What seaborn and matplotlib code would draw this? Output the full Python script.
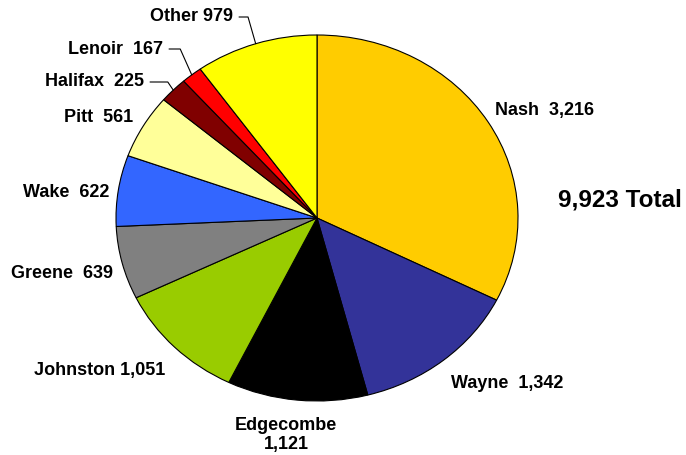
import numpy as np
import matplotlib.pyplot as plt
import seaborn as sns

counties = ["Nash", "Wayne", "Edgecombe", "Johnston", "Greene",
            "Wake", "Pitt", "Halifax", "Lenoir", "Other"]
cases = [3216, 1342, 1121, 1051, 639, 622, 561, 225, 167, 979]
labels = ["Nash  3,216", "Wayne  1,342", "Edgecombe\n1,121", "Johnston 1,051",
          "Greene  639", "Wake  622", "Pitt  561", "Halifax  225",
          "Lenoir  167", "Other 979"]
total_text = "9,923 Total"

colors = ["#FFCC00", "#333399", "#000000", "#99CC00", "#808080",
          "#3366FF", "#FFFF99", "#800000", "#FF0000", "#FFFF00"]

sns.set_style("white")
plt.rcParams["font.family"] = ["Liberation Sans", "DejaVu Sans"]
plt.rcParams["text.color"] = "black"

# pie centre / radii in pixels (the original is a bit wider than tall)
cx, cy, rx, ry = 317, 218, 201, 183
W, H = 686, 455


def px(x, y):
    return ((x - cx) / rx, (cy - y) / ry)


fig = plt.figure(figsize=(W / 100, H / 100), dpi=100)
ax = fig.add_axes([0, 0, 1, 1])
wedges, _ = ax.pie(cases, colors=colors, startangle=90, counterclock=False,
                   radius=1, wedgeprops=dict(edgecolor="black", linewidth=0.8))
ax.set_aspect("auto")
ax.set_xlim(-cx / rx, (W - cx) / rx)
ax.set_ylim((cy - H) / ry, cy / ry)
ax.axis("off")

# label placement: (x, y, ha) in pixels, leader angle or None
label_pos = {
    "Nash": (545, 111, "center", None),
    "Wayne": (507, 383, "center", None),
    "Edgecombe": (286, 435, "center", None),
    "Johnston": (100, 371, "center", None),
    "Greene": (62, 274, "center", None),
    "Wake": (66, 193, "center", None),
    "Pitt": (99, 118, "center", None),
    "Halifax": (144, 82, "right", 124),
    "Lenoir": (163, 49, "right", 114),
    "Other": (233, 17, "right", 106),
}

fs = 13
for w, name, lab in zip(wedges, counties, labels):
    x, y, ha, angB = label_pos[name]
    if angB is None:
        ax.text(*px(x, y), lab, ha=ha, va="center", fontsize=fs,
                fontweight="bold", linespacing=1.1)
    else:
        mid = np.deg2rad((w.theta1 + w.theta2) / 2)
        ax.annotate(lab, xy=(np.cos(mid), np.sin(mid)), xytext=px(x, y),
                    ha=ha, va="center", fontsize=fs, fontweight="bold",
                    arrowprops=dict(arrowstyle="-", color="black", lw=0.8,
                                    relpos=(1, 0.5), shrinkA=2, shrinkB=0,
                                    connectionstyle=f"angle,angleA=0,angleB={angB},rad=0"))

ax.text(*px(620, 200), total_text, ha="center", va="center",
        fontsize=17.5, fontweight="bold")

fig.savefig("out.png", dpi=100)
